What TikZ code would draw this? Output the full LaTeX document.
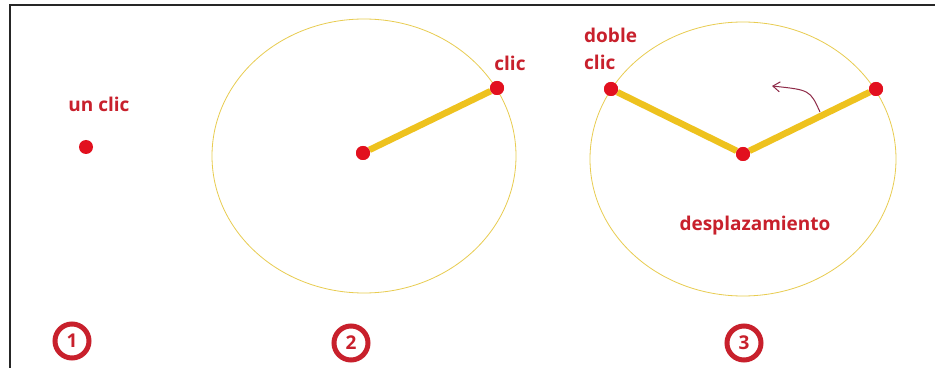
\documentclass[tikz,border=0pt]{standalone}
\usepackage{fontspec}
\setmainfont{Open Sans}
\usetikzlibrary{arrows.meta}
\definecolor{clicred}{HTML}{C8202C}
\definecolor{dotred}{HTML}{E2101E}
\definecolor{armyel}{HTML}{EEC21E}
\definecolor{ringyel}{HTML}{E8CC50}
\definecolor{arrmar}{HTML}{8E2A48}
\tikzset{
  dot/.style={circle,fill=dotred,inner sep=0pt,minimum size=14pt},
  lbl/.style={text=clicred,font=\bfseries\fontsize{19}{27}\selectfont,inner sep=0pt},
  num/.style={circle,draw=clicred,line width=5pt,text=clicred,inner sep=0pt,
    minimum size=34pt,font=\bfseries\fontsize{19}{19}\selectfont},
  arm/.style={armyel,line width=6.5pt},
  ring/.style={ringyel,line width=0.8pt}
}
\begin{document}
\begin{tikzpicture}[x=1pt,y=-1pt]
\useasboundingbox (0,0) rectangle (935,374);
\fill[white] (0,0) rectangle (935,374);
\draw[line width=1.5pt,black!85] (935,5) -| (10,368);
% un clic
\node[lbl] (unclic) at (99,104) {un clic};
\node[dot] (p1) at (86,147) {};
\node[num] (n1) at (72,341) {1};
% clic
\draw[ring] (364,156) ellipse (152 and 137);
\node[dot] (c2) at (363,153) {};
\node[dot] (e2) at (497,88) {};
\draw[arm] (c2) -- (e2);
\node[dot] at (c2) {};
\node[dot] at (e2) {};
\node[lbl] (clic2) at (510,63) {clic};
\node[num] (n2) at (351,343) {2};
% doble clic
\draw[ring] (743,159) ellipse (153 and 137);
\node[dot] (c3) at (743,154) {};
\node[dot] (l3) at (611,89) {};
\node[dot] (r3) at (876,89) {};
\draw[arm] (l3) -- (c3) -- (r3);
\foreach \p in {c3,l3,r3} \node[dot] at (\p) {};
\node[lbl,align=left,anchor=north west] (doble) at (584,28) {doble\\clic};
\node[lbl] (despl) at (755,226) {desplazamiento};
\coordinate (a0) at (820,112);
\coordinate (a1) at (772,86);
\draw[arrmar,line width=1pt,-{Straight Barb[length=7pt,width=10pt]}] (a0) .. controls (810,90) .. (a1);
\node[num] (n3) at (744,343) {3};
\end{tikzpicture}
\end{document}
